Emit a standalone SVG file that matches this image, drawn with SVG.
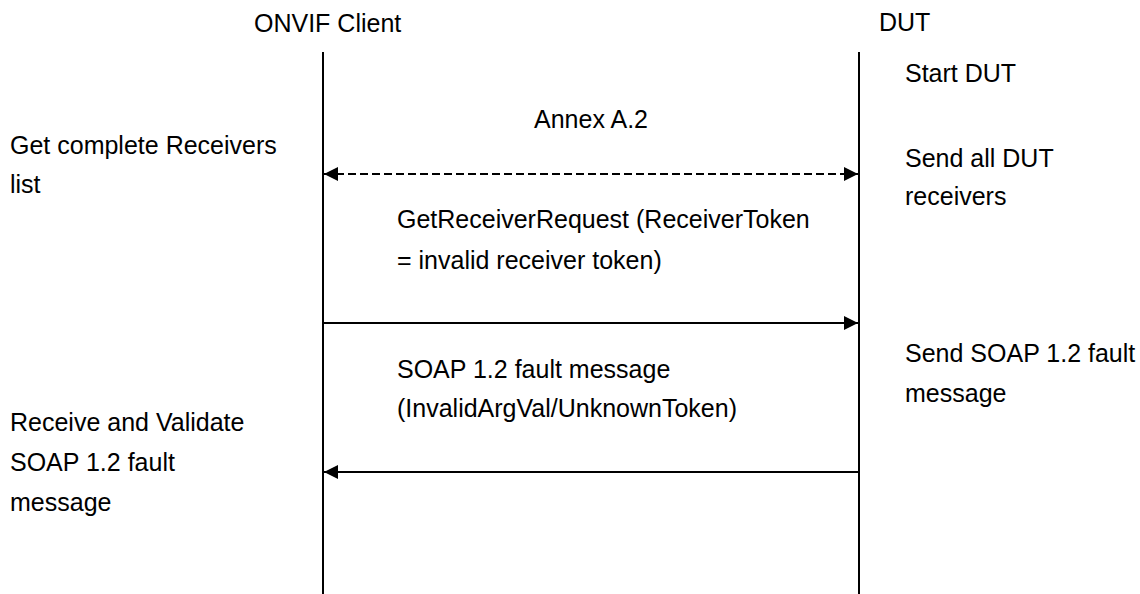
<svg xmlns="http://www.w3.org/2000/svg" width="1140" height="594" viewBox="0 0 1140 594">
<style>
text{font-family:"Liberation Sans",Arial,sans-serif;font-size:25px;fill:#000}
.life{stroke:#000;stroke-width:2}
.msg{stroke:#000;stroke-width:2;fill:none}
.dash{stroke-dasharray:8,4}
</style>
<defs>
<marker id="ah" viewBox="0 0 10 10" refX="10" refY="5" markerWidth="14" markerHeight="14" markerUnits="userSpaceOnUse" orient="auto-start-reverse"><path d="M0,0L10,5L0,10z" fill="#000"/></marker>
</defs>
<rect width="1140" height="594" fill="#fff"/>
<g id="client">
<text x="254" y="32">ONVIF Client</text>
<line class="life" x1="323" y1="52" x2="323" y2="594"/>
</g>
<g id="dut">
<text x="879" y="31">DUT</text>
<line class="life" x1="859" y1="52" x2="859" y2="594"/>
</g>
<g id="notes">
<text x="905" y="82">Start DUT</text>
<text x="10" y="154">Get complete Receivers</text>
<text x="10" y="193">list</text>
<text x="905" y="167">Send all DUT</text>
<text x="905" y="205">receivers</text>
<text x="905" y="362">Send SOAP 1.2 fault</text>
<text x="905" y="402">message</text>
<text x="10" y="431">Receive and Validate</text>
<text x="10" y="471">SOAP 1.2 fault</text>
<text x="10" y="511">message</text>
</g>
<g id="connectors">
<line class="msg dash" x1="324" y1="174" x2="858" y2="174" marker-start="url(#ah)" marker-end="url(#ah)"/>
<text x="534" y="128">Annex A.2</text>
<line class="msg" x1="324" y1="323" x2="858" y2="323" marker-end="url(#ah)"/>
<text x="397" y="228">GetReceiverRequest (ReceiverToken</text>
<text x="397" y="269">= invalid receiver token)</text>
<line class="msg" x1="858" y1="472" x2="324" y2="472" marker-end="url(#ah)"/>
<text x="397" y="378">SOAP 1.2 fault message</text>
<text x="397" y="417">(InvalidArgVal/UnknownToken)</text>
</g>
</svg>
